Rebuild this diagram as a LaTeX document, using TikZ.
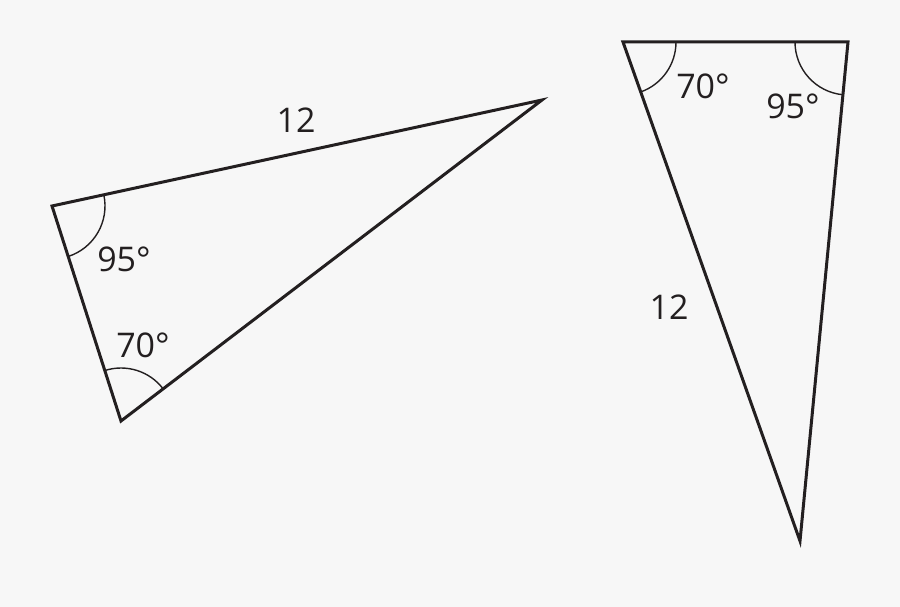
\documentclass[tikz,border=0pt]{standalone}
\usepackage{fontspec}
\setmainfont{Open Sans}
\usepackage{tikz}
\usetikzlibrary{angles}
\definecolor{bgcol}{HTML}{F7F7F7}
\definecolor{inkcol}{HTML}{231F20}
\newcommand\R{53pt}

\begin{document}
\begin{tikzpicture}[x=1pt,y=-1pt,line join=miter,
                    font=\fontsize{34}{38}\selectfont]

  \tikzstyle{side}=[draw=inkcol,line width=3pt]
  \tikzstyle{anglemark}=[draw=inkcol,line width=1.4pt,angle radius=\R]
  \tikzstyle{lbl}=[text=inkcol,inner sep=0pt]

  \fill[bgcol] (0,0) rectangle (900,607);
  \useasboundingbox (0,0) rectangle (900,607);

  % left triangle
  \coordinate (LA) at (52,206);
  \coordinate (LB) at (542,100);
  \coordinate (LC) at (121,421);
  % right triangle
  \coordinate (RD) at (623,42);
  \coordinate (RE) at (848,42);
  \coordinate (RF) at (800,541);

  \path[side] (LA) -- (LB) -- (LC) -- cycle;
  \path[side] (RD) -- (RE) -- (RF) -- cycle;

  \pic[anglemark] {angle = LC--LA--LB};
  \pic[anglemark] {angle = LB--LC--LA};
  \pic[anglemark] {angle = RF--RD--RE};
  \pic[anglemark] {angle = RD--RE--RF};

  \node[lbl] (len1) at (296,120) {12};
  \node[lbl] (ang1) at (124,259) {95°};
  \node[lbl] (ang2) at (143,345) {70°};
  \node[lbl] (len2) at (669,307) {12};
  \node[lbl] (ang3) at (703,86)  {70°};
  \node[lbl] (ang4) at (793,106) {95°};
\end{tikzpicture}
\end{document}
